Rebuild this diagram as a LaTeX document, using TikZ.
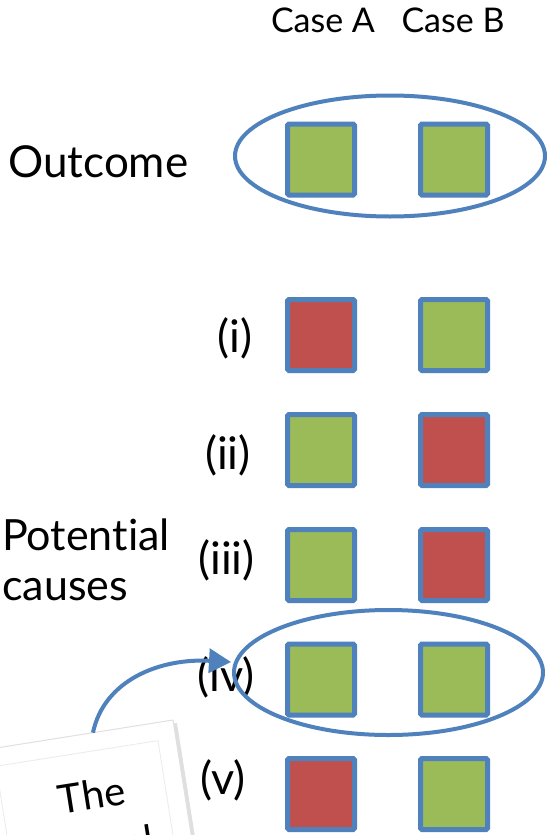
\documentclass[tikz,border=0pt]{standalone}
\usepackage{fontspec}
\setmainfont{Lato}[Ligatures=NoCommon]
\usetikzlibrary{shapes.geometric,arrows.meta,shadows}
\definecolor{cblue}{HTML}{4F81BD}
\definecolor{cgreen}{HTML}{9BBB59}
\definecolor{cred}{HTML}{C0504D}
\begin{document}
\begin{tikzpicture}[x=1pt,y=-1pt,
  sq/.style={draw=cblue, line width=5pt, rounded corners=1.5pt, minimum width=67pt, minimum height=71pt, inner sep=0pt,
    drop shadow={opacity=0.2, shadow xshift=1.5pt, shadow yshift=-2pt}},
  g/.style={sq, fill=cgreen},
  r/.style={sq, fill=cred},
  ring/.style={ellipse, draw=cblue, line width=4pt, inner sep=0pt},
  big/.style={font=\fontsize{44}{50}\selectfont, inner sep=0pt},
  lab/.style={font=\fontsize{45}{50}\selectfont, inner sep=0pt, anchor=east},
  head/.style={font=\fontsize{34}{40}\selectfont, inner sep=0pt, anchor=base},
  notetxt/.style={font=\fontsize{40}{46}\selectfont, inner sep=0pt}
]
\useasboundingbox (0,0) rectangle (549,835);
\clip (0,0) rectangle (549,835);

% headers
\node[head] (ha) at (323,32) {Case A};
\node[head] (hb) at (453,32) {Case B};

% left texts
\node[big, anchor=base west] (out) at (8,177) {Outcome};
\node[big, anchor=base west, font=\fontsize{43}{50}\selectfont] (pot) at (2,550) {Potential};
\node[big, anchor=base west, font=\fontsize{43}{50}\selectfont] (cau) at (2,600) {causes};

% row labels
\node[lab] (l1) at (253,338) {(i)};
\node[lab] (l2) at (251,455) {(ii)};
\node[lab] (l3) at (255,560) {(iii)};
\node[lab] (l4) at (255,677) {(iv)};
\node[lab] (l5) at (246,780) {(v)};

% squares
\node[g] (oa) at (321,159.5) {};
\node[g] (ob) at (454,159.5) {};
\node[r] (a1) at (321,335) {};
\node[g] (b1) at (454,335) {};
\node[g] (a2) at (321,450) {};
\node[r] (b2) at (454,450) {};
\node[g] (a3) at (321,565) {};
\node[r] (b3) at (454,565) {};
\node[g] (a4) at (321,679.5) {};
\node[g] (b4) at (454,679.5) {};
\node[r] (a5) at (321,794) {};
\node[g] (b5) at (454,794) {};

% ellipses
\node[ring, minimum width=310pt, minimum height=121pt] (e1) at (390,156) {};
\node[ring, minimum width=309pt, minimum height=125pt] (e2) at (388.5,672.5) {};

% note
\begin{scope}[shift={(87.5,819.6)}, rotate=9, transform shape]
  \node[draw=black!12, line width=1pt, fill=white, minimum width=200pt, minimum height=170pt, inner sep=0pt,
        drop shadow={opacity=0.25, shadow xshift=4pt, shadow yshift=-3pt}] (note) at (0,0) {};
  \node[draw=black!8, line width=0.8pt, minimum width=164pt, minimum height=134pt, inner sep=0pt] (frame) at (0,0) {};
  \node[notetxt] (t1) at (8,-24) {The};
  \node[notetxt] (t2) at (8,29) {causal};
  \coordinate (arrstart) at (19,-85);
\end{scope}

\coordinate (tip) at (231,662);
\draw[cblue, line width=4pt, -{Triangle[length=22pt,width=24pt]}]
  (arrstart) .. controls (104,680) and (160,658) .. (tip);
\end{tikzpicture}
\end{document}
